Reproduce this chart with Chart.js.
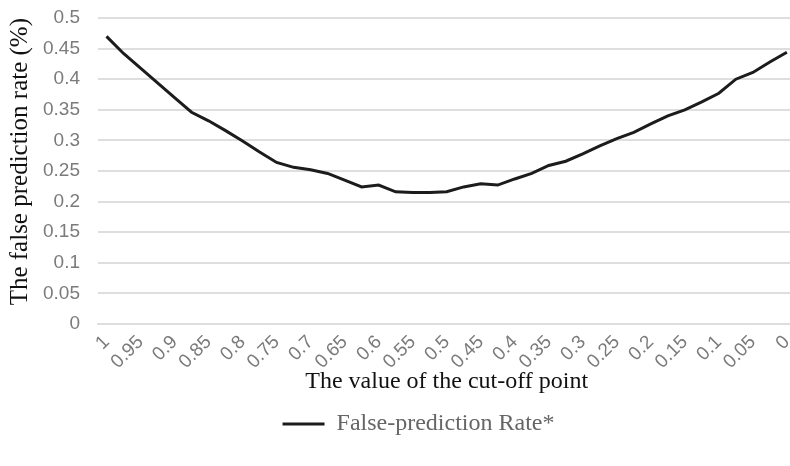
<!DOCTYPE html>
<html>
<head>
<meta charset="utf-8">
<title>False-prediction Rate</title>
<script src="https://cdn.jsdelivr.net/npm/chart.js@4"></script>
<style>
    html, body { margin: 0; padding: 0; background: #fff; }
    #frame { width: 790px; height: 466px; overflow: hidden; position: relative; }
    #chartBox { width: 803px; height: 466px; position: absolute; left: 0; top: 0; }
</style>
</head>
<body>
<div id="frame">
    <div id="chartBox"><canvas id="rateChart"></canvas></div>
</div>
<script>
// Cut-off points (x categories), every other one gets a tick label
const cutoffPoints = [
    '1', '0.975', '0.95', '0.925', '0.9', '0.875', '0.85', '0.825', '0.8', '0.775',
    '0.75', '0.725', '0.7', '0.675', '0.65', '0.625', '0.6', '0.575', '0.55', '0.525',
    '0.5', '0.475', '0.45', '0.425', '0.4', '0.375', '0.35', '0.325', '0.3', '0.275',
    '0.25', '0.225', '0.2', '0.175', '0.15', '0.125', '0.1', '0.075', '0.05', '0.025',
    '0'
];

// False-prediction rate
const falsePredictionRate = [
    0.470, 0.442, 0.418, 0.394, 0.370, 0.346, 0.332, 0.316, 0.299, 0.281,
    0.264, 0.256, 0.252, 0.246, 0.235, 0.224, 0.227, 0.216, 0.215, 0.215,
    0.216, 0.224, 0.229, 0.227, 0.237, 0.246, 0.259, 0.266, 0.278, 0.291,
    0.303, 0.313, 0.327, 0.340, 0.350, 0.363, 0.377, 0.400, 0.411, 0.428,
    0.444
];

const yMin = 0;
const yMax = 0.5;
const yStep = 0.05;

const seriesLabel = 'False-prediction Rate*';
const xTitle = 'The value of the cut-off point';
const yTitle = 'The false prediction rate (%)';

const gridColor = '#dedede';
const tickColor = '#7b7b7b';

// nudge the legend so it sits where Excel put it
const legendShift = {
    id: 'legendShift',
    afterLayout(chart) {
        chart.legend.left += 17;
        chart.legend.right += 17;
    }
};

const canvas = document.getElementById('rateChart');

new Chart(canvas, {
    type: 'line',
    data: {
        labels: cutoffPoints,
        datasets: [{
            label: seriesLabel,
            data: falsePredictionRate,
            borderColor: '#1c1c1c',
            backgroundColor: '#1c1c1c',
            borderWidth: 3,
            pointRadius: 0,
            tension: 0,
            fill: false
        }]
    },
    options: {
        responsive: true,
        maintainAspectRatio: false,
        animation: false,
        layout: {
            padding: { top: 18, right: 0, bottom: 20, left: 0 }
        },
        scales: {
            x: {
                offset: true,
                // invisible tick marks give the label gap without extra side padding
                grid: { display: true, color: 'rgba(0,0,0,0)', drawOnChartArea: false,
                        drawTicks: true, tickLength: 7, tickColor: 'rgba(0,0,0,0)' },
                border: { display: true, color: gridColor, width: 2 },
                ticks: {
                    autoSkip: false,
                    minRotation: 45,
                    maxRotation: 45,
                    padding: 0,
                    color: tickColor,
                    font: { family: 'Liberation Sans', size: 19 },
                    callback: function(value, index) {
                        return index % 2 === 0 ? cutoffPoints[index] : '';
                    }
                },
                title: {
                    display: true,
                    text: xTitle,
                    color: '#111',
                    font: { family: 'Liberation Serif', size: 24 },
                    padding: { top: 0, bottom: 6 }
                },
                afterFit: function(scale) {
                    scale.height = 78;
                }
            },
            y: {
                min: yMin,
                max: yMax,
                grid: { color: gridColor, lineWidth: 2, drawTicks: true,
                        tickLength: 18, tickColor: 'rgba(0,0,0,0)' },
                border: { display: false },
                ticks: {
                    stepSize: yStep,
                    padding: 0,
                    color: tickColor,
                    font: { family: 'Liberation Sans', size: 19 },
                    callback: function(value) {
                        return parseFloat(value.toFixed(2)).toString();
                    }
                },
                title: {
                    display: true,
                    text: yTitle,
                    align: 'end',
                    color: '#111',
                    font: { family: 'Liberation Serif', size: 25 },
                    padding: { top: 5, bottom: 0 }
                },
                afterFit: function(scale) {
                    scale.width = 98;
                }
            }
        },
        plugins: {
            legend: {
                display: true,
                position: 'bottom',
                labels: {
                    usePointStyle: true,
                    pointStyle: 'line',
                    pointStyleWidth: 42,
                    color: '#666',
                    font: { family: 'Liberation Serif', size: 24 },
                    padding: 10
                }
            },
            tooltip: { enabled: false }
        }
    },
    plugins: [legendShift]
});
</script>
</body>
</html>
